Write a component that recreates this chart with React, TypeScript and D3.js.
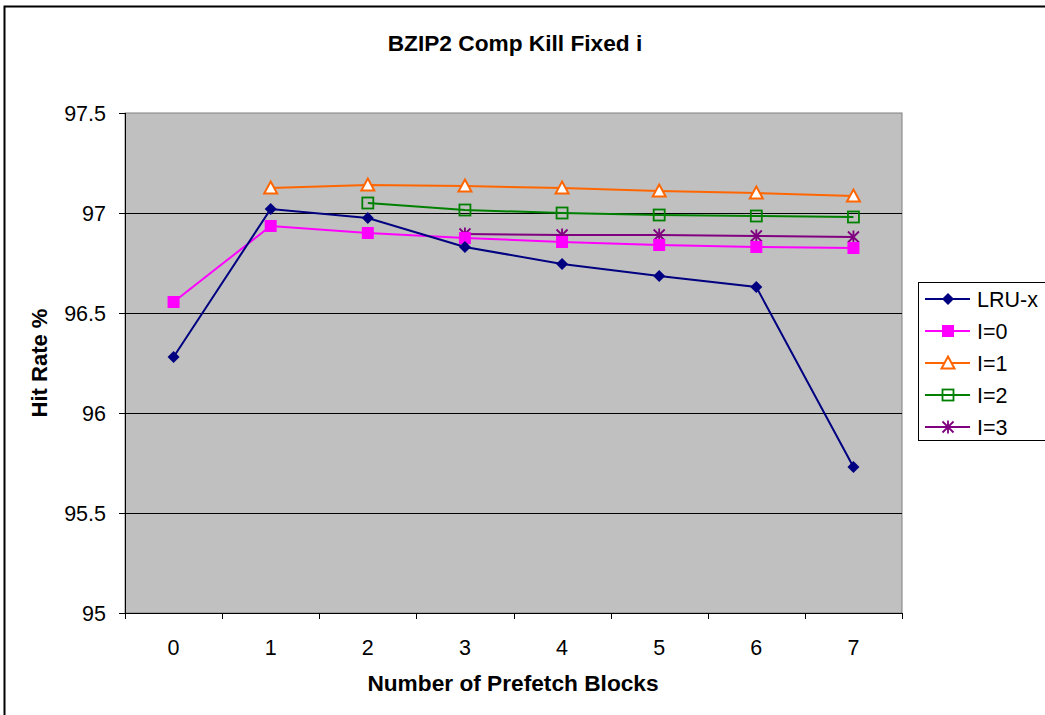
import React, { useEffect, useRef } from 'react';
import * as d3 from 'd3';

const categories = ['0', '1', '2', '3', '4', '5', '6', '7'];
const yTicks = [95, 95.5, 96, 96.5, 97, 97.5];

const lruX = [96.28, 97.02, 96.975, 96.83, 96.745, 96.685, 96.63, 95.73];
const i0 = [96.555, 96.935, 96.9, 96.875, 96.855, 96.84, 96.83, 96.825];
const i1 = [null, 97.125, 97.14, 97.135, 97.125, 97.11, 97.1, 97.085];
const i2 = [null, null, 97.05, 97.015, 97.0, 96.99, 96.985, 96.98];
const i3 = [null, null, null, 96.895, 96.89, 96.89, 96.885, 96.88];

const seriesNames = ['LRU-x', 'I=0', 'I=1', 'I=2', 'I=3'];
const seriesValues = [lruX, i0, i1, i2, i3];
const seriesColors = ['#000080', '#FF00FF', '#FF6600', '#008000', '#800080'];
const seriesMarkers = ['diamond', 'square', 'triangle', 'hollowSquare', 'star'];

const W = 1045;
const H = 715;

const App = () => {
  const svgRef = useRef(null);

  useEffect(() => {
    const svg = d3.select(svgRef.current);
    svg.selectAll('*').remove();
    const margin = { top: 113, right: 143, bottom: 102, left: 125 };
    const width = W - margin.left - margin.right;
    const height = H - margin.top - margin.bottom;
    const font = '"Liberation Sans", Arial, sans-serif';

    // outer frame
    svg.append('rect')
      .attr('x', 4.5).attr('y', 6.5)
      .attr('width', W).attr('height', H)
      .attr('fill', 'white').attr('stroke', 'black').attr('stroke-width', 2);

    const x = d3.scaleBand().domain(categories).range([0, width]);
    const y = d3.scaleLinear().domain([95, 97.5]).range([height, 0]);

    const g = svg.append('g').attr('transform', `translate(${margin.left},${margin.top})`);

    g.append('rect')
      .attr('width', width).attr('height', height)
      .attr('fill', '#C0C0C0').attr('stroke', '#808080').attr('stroke-width', 1);

    g.selectAll('.grid')
      .data(yTicks.filter(t => t > 95 && t < 97.5))
      .join('line')
      .attr('x1', 0).attr('x2', width)
      .attr('y1', d => Math.round(y(d)) + 0.5).attr('y2', d => Math.round(y(d)) + 0.5)
      .attr('stroke', 'black').attr('stroke-width', 1);

    // y axis
    g.append('line')
      .attr('x1', 0.5).attr('x2', 0.5).attr('y1', 0).attr('y2', height)
      .attr('stroke', 'black');
    g.selectAll('.ytick')
      .data(yTicks)
      .join('line')
      .attr('x1', -6).attr('x2', 0)
      .attr('y1', d => Math.round(y(d)) + 0.5).attr('y2', d => Math.round(y(d)) + 0.5)
      .attr('stroke', 'black');
    g.selectAll('.ylab')
      .data(yTicks)
      .join('text')
      .attr('x', -19).attr('y', d => y(d))
      .attr('dy', '0.35em')
      .attr('text-anchor', 'end')
      .style('font-family', font).style('font-size', '21.5px')
      .text(d => String(d));

    // x axis
    g.append('line')
      .attr('x1', 0).attr('x2', width).attr('y1', height + 0.5).attr('y2', height + 0.5)
      .attr('stroke', 'black');
    const bounds = categories.map(c => x(c)).concat([width]);
    g.selectAll('.xtick')
      .data(bounds)
      .join('line')
      .attr('x1', d => Math.round(d) + 0.5).attr('x2', d => Math.round(d) + 0.5)
      .attr('y1', height).attr('y2', height + 6)
      .attr('stroke', 'black');
    g.selectAll('.xlab')
      .data(categories)
      .join('text')
      .attr('x', d => x(d) + x.bandwidth() / 2)
      .attr('y', height + 42)
      .attr('text-anchor', 'middle')
      .style('font-family', font).style('font-size', '21.5px')
      .text(d => d);

    const drawMarker = (sel, type, color, cx, cy) => {
      if (type === 'diamond') {
        sel.append('path')
          .attr('d', `M${cx},${cy - 6}L${cx + 6},${cy}L${cx},${cy + 6}L${cx - 6},${cy}Z`)
          .attr('fill', color);
      } else if (type === 'square') {
        sel.append('rect')
          .attr('x', cx - 6).attr('y', cy - 6).attr('width', 12).attr('height', 12)
          .attr('fill', color);
      } else if (type === 'triangle') {
        sel.append('path')
          .attr('d', `M${cx},${cy - 6.5}L${cx + 6.5},${cy + 5.5}L${cx - 6.5},${cy + 5.5}Z`)
          .attr('fill', 'white').attr('stroke', color).attr('stroke-width', 2);
      } else if (type === 'hollowSquare') {
        sel.append('rect')
          .attr('x', cx - 5.5).attr('y', cy - 5.5).attr('width', 11).attr('height', 11)
          .attr('fill', 'none').attr('stroke', color).attr('stroke-width', 1.8);
      } else if (type === 'star') {
        sel.append('path')
          .attr('d', `M${cx - 5.5},${cy - 5.5}L${cx + 5.5},${cy + 5.5}M${cx - 5.5},${cy + 5.5}L${cx + 5.5},${cy - 5.5}M${cx},${cy - 6.5}L${cx},${cy + 6.5}`)
          .attr('stroke', color).attr('stroke-width', 1.8);
      }
    };

    const line = d3.line()
      .defined(d => d[1] != null)
      .x(d => x(d[0]) + x.bandwidth() / 2)
      .y(d => y(d[1]));

    // draw in reverse so LRU-x sits on top
    [4, 3, 2, 1, 0].forEach(si => {
      const vals = seriesValues[si];
      const pts = categories.map((c, k) => [c, vals[k]]);
      const sg = g.append('g');
      sg.append('path')
        .datum(pts)
        .attr('d', line)
        .attr('fill', 'none')
        .attr('stroke', seriesColors[si])
        .attr('stroke-width', 2);
      pts.filter(p => p[1] != null).forEach(p => {
        drawMarker(sg, seriesMarkers[si], seriesColors[si], x(p[0]) + x.bandwidth() / 2, y(p[1]));
      });
    });

    // titles
    svg.append('text')
      .attr('x', 515).attr('y', 51)
      .attr('text-anchor', 'middle')
      .style('font-family', font).style('font-size', '22.7px').style('font-weight', 'bold')
      .text('BZIP2 Comp Kill Fixed i');
    svg.append('text')
      .attr('x', 513).attr('y', 691)
      .attr('text-anchor', 'middle')
      .style('font-family', font).style('font-size', '22.7px').style('font-weight', 'bold')
      .text('Number of Prefetch Blocks');
    svg.append('text')
      .attr('transform', `translate(47,${margin.top + height / 2}) rotate(-90)`)
      .attr('text-anchor', 'middle')
      .style('font-family', font).style('font-size', '22px').style('font-weight', 'bold')
      .text('Hit Rate %');

    // legend
    const lg = svg.append('g').attr('transform', 'translate(918,282)');
    lg.append('rect')
      .attr('x', 0.5).attr('y', 0.5).attr('width', 140).attr('height', 158)
      .attr('fill', 'white').attr('stroke', 'black');
    seriesNames.forEach((name, k) => {
      const cy = 17 + k * 32;
      lg.append('line')
        .attr('x1', 7).attr('x2', 52).attr('y1', cy).attr('y2', cy)
        .attr('stroke', seriesColors[k]).attr('stroke-width', 2);
      drawMarker(lg, seriesMarkers[k], seriesColors[k], 30, cy);
      lg.append('text')
        .attr('x', 59).attr('y', cy)
        .attr('dy', '0.35em')
        .style('font-family', font).style('font-size', '21.5px')
        .text(name);
    });
  }, []);

  return (
    <svg
      ref={svgRef}
      width={W}
      height={H}
      style={{ position: 'fixed', left: 0, top: 0, background: 'white' }}
    />
  );
};

export default App;
